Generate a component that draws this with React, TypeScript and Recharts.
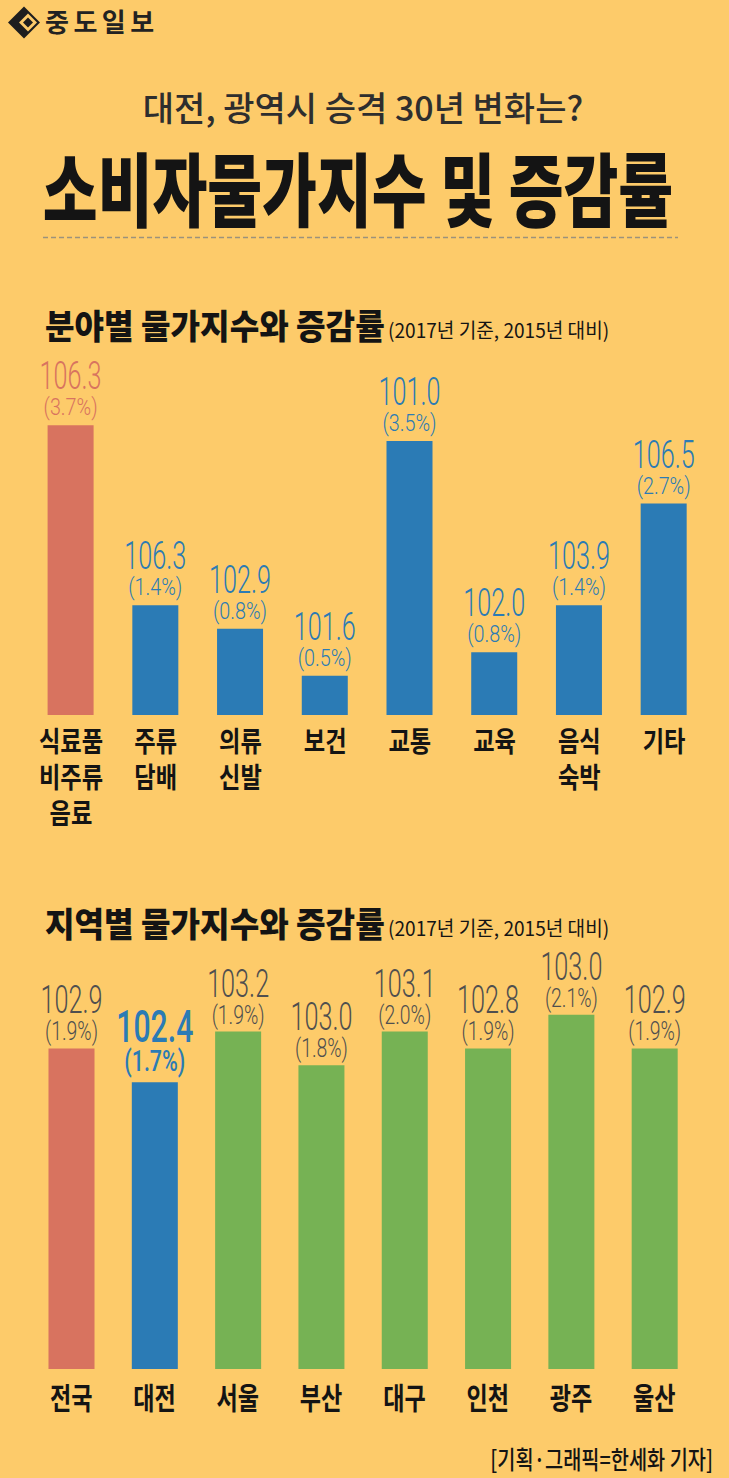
import React from 'react';
import { BarChart, Bar, XAxis, YAxis, Cell, LabelList } from 'recharts';

const BG = '#FDCB6A';
const RED = '#D8735F';
const BLUE = '#2B7BB5';
const GREEN = '#76B254';
const GRAY = '#4F4F4F';
const INK = '#141414';

const KR = '"Noto Sans CJK KR", "Noto Sans", sans-serif';
const NUM = 'Roboto, "Liberation Sans", sans-serif';

// 분야별 (sector) data
const sectorNames = ['식료품\n비주류\n음료', '주류\n담배', '의류\n신발', '보건', '교통', '교육', '음식\n숙박', '기타'];
const sectorIndex = [106.3, 106.3, 102.9, 101.6, 101.0, 102.0, 103.9, 106.5];
const sectorRate = [3.7, 1.4, 0.8, 0.5, 3.5, 0.8, 1.4, 2.7];
// bar heights as drawn in the picture (% units)
const sectorBarHeight = [3.7, 1.4, 1.1, 0.5, 3.5, 0.8, 1.4, 2.7];
const sectorColors = [RED, BLUE, BLUE, BLUE, BLUE, BLUE, BLUE, BLUE];

// 지역별 (region) data
const regionNames = ['전국', '대전', '서울', '부산', '대구', '인천', '광주', '울산'];
const regionIndex = [102.9, 102.4, 103.2, 103.0, 103.1, 102.8, 103.0, 102.9];
const regionRate = [1.9, 1.7, 1.9, 1.8, 2.0, 1.9, 2.1, 1.9];
// bar heights as drawn in the picture (% units)
const regionBarHeight = [1.9, 1.7, 2.0, 1.8, 2.0, 1.9, 2.1, 1.9];
const regionColors = [RED, BLUE, GREEN, GREEN, GREEN, GREEN, GREEN, GREEN];

const sectorData = sectorNames.map((name, i) => ({ name, value: sectorBarHeight[i] }));
const regionData = regionNames.map((name, i) => ({ name, value: regionBarHeight[i] }));

function SText(props: any) {
  const { x, y, sx = 1, anchor = 'middle', children, ...rest } = props;
  return (
    <text transform={`translate(${x},${y}) scale(${sx},1)`} x={0} y={0} textAnchor={anchor} {...rest}>
      {children}
    </text>
  );
}

function box(props: any) {
  const vb = props.viewBox || {};
  const x = props.x ?? vb.x;
  const y = props.y ?? vb.y;
  const width = props.width ?? vb.width;
  return { x: Number(x), y: Number(y), width: Number(width), index: props.index };
}

// value label: index on top line, change rate below, in one text element
function ValueLabel(p: any) {
  const { cx, y, color, idxText, rateText, idxSize, rateSize, idxW, rateW, idxDy, rateDy, weight } = p;
  return (
    <text fontFamily={NUM} fontWeight={weight} fill={color} textAnchor="middle">
      <tspan x={cx} y={y - idxDy} fontSize={idxSize} textLength={idxW} lengthAdjust="spacingAndGlyphs">
        {idxText}
      </tspan>
      <tspan x={cx} y={y - rateDy} fontSize={rateSize} textLength={rateW} lengthAdjust="spacingAndGlyphs">
        {rateText}
      </tspan>
    </text>
  );
}

const sectorLabel = (props: any) => {
  const { x, y, width, index } = box(props);
  return (
    <g key={`sl-${index}`}>
      <ValueLabel
        cx={x + width / 2}
        y={y}
        color={sectorColors[index]}
        weight={300}
        idxText={sectorIndex[index].toFixed(1)}
        rateText={`(${sectorRate[index].toFixed(1)}%)`}
        idxSize={39}
        rateSize={23}
        idxW={62}
        rateW={54}
        idxDy={36}
        rateDy={10}
      />
    </g>
  );
};

const regionLabel = (props: any) => {
  const { x, y, width, index } = box(props);
  const hi = index === 1;
  return (
    <g key={`rl-${index}`}>
      <ValueLabel
        cx={x + width / 2}
        y={y}
        color={hi ? BLUE : GRAY}
        weight={hi ? 500 : 300}
        idxText={regionIndex[index].toFixed(1)}
        rateText={`(${regionRate[index].toFixed(1)}%)`}
        idxSize={hi ? 45 : 38}
        rateSize={hi ? 29 : 26}
        idxW={hi ? 77 : 62}
        rateW={hi ? 61 : 53}
        idxDy={hi ? 40 : 35}
        rateDy={hi ? 11 : 8}
      />
    </g>
  );
};

const SectorTick = (props: any) => {
  const { x, y, payload } = props;
  const lines = String(payload.value).split('\n');
  return (
    <g>
      {lines.map((ln, i) => (
        <SText key={i} x={x} y={y + 37 + i * 36} sx={0.83} fontFamily={KR} fontWeight={700} fontSize={28} fill={INK}>
          {ln}
        </SText>
      ))}
    </g>
  );
};

const RegionTick = (props: any) => {
  const { x, y, payload } = props;
  return (
    <SText x={x} y={y + 40} sx={0.77} fontFamily={KR} fontWeight={600} fontSize={30} fill={INK}>
      {payload.value}
    </SText>
  );
};

function Logo() {
  return (
    <g>
      <polygon points="8,22.5 24,6.5 40,22.5 24,38.5" fill="#1e1e1e" />
      <polygon points="19,22.5 28,13.5 37,22.5 28,31.5" fill={BG} />
      <polygon points="23,22.5 28,17.5 33,22.5 28,27.5" fill="#1e1e1e" />
      <text x={45} y={32} fontFamily={KR} fontWeight={700} fontSize={26} letterSpacing={4.5} fill="#222">
        중도일보
      </text>
    </g>
  );
}

export default function App() {
  return (
    <div style={{ position: 'absolute', left: 0, top: 0, width: 729, height: 1478, background: BG, overflow: 'hidden' }}>
      <svg width={729} height={1478} style={{ position: 'absolute', left: 0, top: 0 }}>
        <Logo />
        <text x={363} y={121} textAnchor="middle" fontFamily={KR} fontWeight={500} fontSize={34} fill="#2e2e2e">
          대전, 광역시 승격 30년 변화는?
        </text>
        <SText x={358} y={220} sx={0.745} fontFamily={KR} fontWeight={900} fontSize={80} fill={INK}>
          소비자물가지수 및 증감률
        </SText>
        <line x1={43} x2={678} y1={237.5} y2={237.5} stroke="#9C927C" strokeWidth={1.3} strokeDasharray="5 3" />

        <SText x={45} y={339} sx={0.945} anchor="start" fontFamily={KR} fontWeight={900} fontSize={34} fill={INK}>
          분야별 물가지수와 증감률
        </SText>
        <SText x={388} y={338} sx={0.955} anchor="start" fontFamily={KR} fontWeight={400} fontSize={20} fill={INK}>
          (2017년 기준, 2015년 대비)
        </SText>

        <SText x={45} y={937} sx={0.945} anchor="start" fontFamily={KR} fontWeight={900} fontSize={34} fill={INK}>
          지역별 물가지수와 증감률
        </SText>
        <SText x={388} y={936} sx={0.955} anchor="start" fontFamily={KR} fontWeight={400} fontSize={20} fill={INK}>
          (2017년 기준, 2015년 대비)
        </SText>

        <SText x={713} y={1469} sx={0.79} anchor="end" fontFamily={KR} fontWeight={500} fontSize={25} fill={INK}>
          [기획·그래픽=한세화 기자]
        </SText>
      </svg>

      <div style={{ position: 'absolute', left: 0, top: 350 }}>
        <BarChart width={729} height={500} data={sectorData} margin={{ top: 12.6, right: 22.6, bottom: 0, left: 28.6 }}>
          <YAxis hide domain={[0, 4.5]} />
          <XAxis dataKey="name" axisLine={false} tickLine={false} tickSize={0} tickMargin={0} interval={0} height={135} tick={<SectorTick />} />
          <Bar dataKey="value" barSize={46} isAnimationActive={false}>
            {sectorData.map((_, i) => (
              <Cell key={i} fill={sectorColors[i]} />
            ))}
            <LabelList dataKey="value" content={sectorLabel} />
          </Bar>
        </BarChart>
      </div>

      <div style={{ position: 'absolute', left: 0, top: 940 }}>
        <BarChart width={729} height={490} data={regionData} margin={{ top: 24, right: 33, bottom: 0, left: 29.5 }}>
          <YAxis hide domain={[0, 2.4]} />
          <XAxis dataKey="name" axisLine={false} tickLine={false} tickSize={0} tickMargin={0} interval={0} height={61} tick={<RegionTick />} />
          <Bar dataKey="value" barSize={46} isAnimationActive={false}>
            {regionData.map((_, i) => (
              <Cell key={i} fill={regionColors[i]} />
            ))}
            <LabelList dataKey="value" content={regionLabel} />
          </Bar>
        </BarChart>
      </div>
    </div>
  );
}
